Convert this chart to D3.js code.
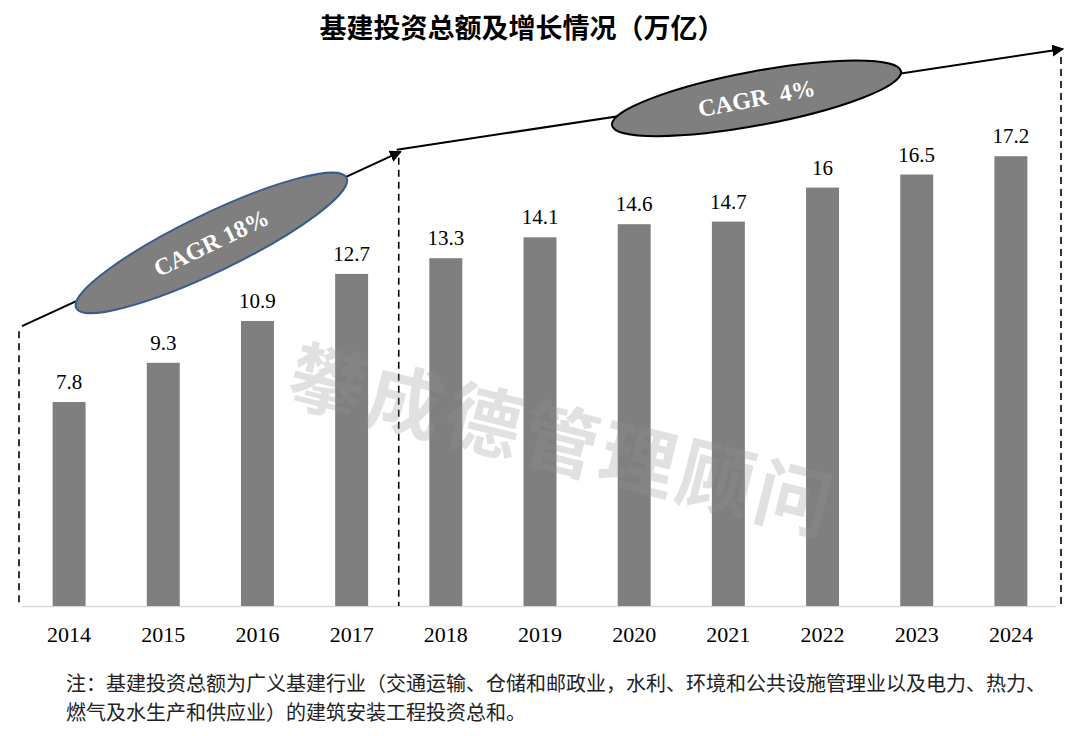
<!DOCTYPE html>
<html>
<head>
<meta charset="utf-8">
<script src="https://cdn.jsdelivr.net/npm/d3@7"></script>
<style>
  html, body { margin: 0; padding: 0; background: #fff; }
</style>
</head>
<body>
<div id="chart"></div>
<script>
// Data
const years = ['2014', '2015', '2016', '2017', '2018', '2019', '2020', '2021', '2022', '2023', '2024']
const totals = [7.8, 9.3, 10.9, 12.7, 13.3, 14.1, 14.6, 14.7, 16, 16.5, 17.2]
const totalLabels = ['7.8', '9.3', '10.9', '12.7', '13.3', '14.1', '14.6', '14.7', '16', '16.5', '17.2']

// Trend arrows: start / break / end (band boundary index, value level)
const trendBreaks = [0, 4, 11]
const trendLevels = [10.7, 17.45, 21.3]
const cagrLabels = ['CAGR 18%', 'CAGR  4%']

const title = '基建投资总额及增长情况（万亿）'
const watermark = '攀成德管理顾问'
const notes = [
  '注：基建投资总额为广义基建行业（交通运输、仓储和邮政业，水利、环境和公共设施管理业以及电力、热力、',
  '燃气及水生产和供应业）的建筑安装工程投资总和。'
]

const width = 1080
const height = 736
const baseY = 606
const serif = '"Liberation Serif", "Times New Roman", serif'
const cjk = '"Noto Sans CJK SC", sans-serif'

const x = d3.scaleBand()
  .domain(years)
  .range([22, 1058])
  .paddingInner(0.65)
  .paddingOuter(0.325)

const y = d3.scaleLinear()
  .domain([0, 20])
  .range([baseY, baseY - 523])

const boundaryX = (i) => i === 0 ? 22 : x(years[i - 1]) + x.bandwidth() + x.step() * x.paddingInner() / 2

const svg = d3.select('#chart').append('svg')
  .attr('width', width)
  .attr('height', height)
  .attr('viewBox', [0, 0, width, height].join(' '))

svg.append('defs').append('marker')
  .attr('id', 'arrow')
  .attr('viewBox', '0 0 10 10')
  .attr('refX', 9)
  .attr('refY', 5)
  .attr('markerWidth', 6)
  .attr('markerHeight', 6)
  .attr('orient', 'auto')
  .append('path')
  .attr('d', 'M0,0 L10,5 L0,10 Z')
  .attr('fill', '#000')

// Title
svg.append('text')
  .attr('x', 522)
  .attr('y', 38)
  .attr('text-anchor', 'middle')
  .style('font-family', cjk)
  .style('font-weight', 'bold')
  .style('font-size', '27px')
  .attr('fill', '#000')
  .text(title)

// Baseline
svg.append('line')
  .attr('x1', x.range()[0])
  .attr('x2', x.range()[1] - 2)
  .attr('y1', baseY + 0.5)
  .attr('y2', baseY + 0.5)
  .attr('stroke', '#d9d9d9')
  .attr('stroke-width', 1.5)

// Bars
svg.selectAll('.bar')
  .data(totals)
  .enter().append('rect')
  .attr('class', 'bar')
  .attr('x', (d, i) => x(years[i]))
  .attr('y', d => y(d))
  .attr('width', x.bandwidth())
  .attr('height', d => baseY - y(d))
  .attr('fill', '#7f7f7f')

// Value labels
svg.selectAll('.value')
  .data(totals)
  .enter().append('text')
  .attr('class', 'value')
  .attr('x', (d, i) => x(years[i]) + x.bandwidth() / 2)
  .attr('y', d => y(d) - 13)
  .attr('text-anchor', 'middle')
  .style('font-family', serif)
  .style('font-size', '21px')
  .attr('fill', '#000')
  .text((d, i) => totalLabels[i])

// Year labels
svg.selectAll('.year')
  .data(years)
  .enter().append('text')
  .attr('class', 'year')
  .attr('x', d => x(d) + x.bandwidth() / 2)
  .attr('y', 642)
  .attr('text-anchor', 'middle')
  .style('font-family', serif)
  .style('font-size', '22px')
  .attr('fill', '#000')
  .text(d => d)

// Dashed separators
trendBreaks.forEach((b, i) => {
  svg.append('line')
    .attr('x1', boundaryX(b) - (i === 0 ? 3 : 0) + (i === 2 ? 3 : 0))
    .attr('x2', boundaryX(b) - (i === 0 ? 3 : 0) + (i === 2 ? 3 : 0))
    .attr('y1', y(trendLevels[i]) + (i === 0 ? 5 : 8))
    .attr('y2', baseY)
    .attr('stroke', '#000')
    .attr('stroke-width', 1.6)
    .attr('stroke-dasharray', '7,5')
})

// Trend arrows and CAGR ellipses
const ellipseStyle = [
  { t: 0.5, rx: 150, ry: 29, stroke: '#3b5b8c', dy: 4 },
  { t: 0.54, rx: 147, ry: 27, stroke: '#000', dy: 3 }
]

cagrLabels.forEach((label, i) => {
  const x1 = boundaryX(trendBreaks[i]) + (i === 1 ? -2 : 0)
  const y1 = y(trendLevels[i])
  const x2 = boundaryX(trendBreaks[i + 1]) + (i === 1 ? 5 : 2)
  const y2 = y(trendLevels[i + 1]) + (i === 0 ? 2 : 0)

  svg.append('line')
    .attr('x1', x1)
    .attr('y1', y1)
    .attr('x2', x2)
    .attr('y2', y2)
    .attr('stroke', '#000')
    .attr('stroke-width', 2)
    .attr('marker-end', 'url(#arrow)')

  const s = ellipseStyle[i]
  const cx = x1 + (x2 - x1) * s.t
  const cy = y1 + (y2 - y1) * s.t + s.dy
  const angle = Math.atan2(y2 - y1, x2 - x1) * 180 / Math.PI

  const g = svg.append('g')
    .attr('transform', `translate(${cx}, ${cy}) rotate(${angle - (i === 1 ? 2 : 1)})`)

  g.append('ellipse')
    .attr('rx', s.rx)
    .attr('ry', s.ry)
    .attr('fill', '#7f7f7f')
    .attr('stroke', s.stroke)
    .attr('stroke-width', 2)

  g.append('text')
    .attr('x', 0)
    .attr('y', 8)
    .attr('text-anchor', 'middle')
    .style('font-family', serif)
    .style('font-weight', 'bold')
    .style('font-size', '24px')
    .style('white-space', 'pre')
    .attr('fill', '#fff')
    .text(label)
})

// Watermark
svg.append('text')
  .attr('transform', 'translate(556, 468) rotate(14)')
  .attr('text-anchor', 'middle')
  .style('font-family', cjk)
  .style('font-weight', 'bold')
  .style('font-size', '76px')
  .style('letter-spacing', '4px')
  .attr('fill', '#949494')
  .attr('fill-opacity', 0.28)
  .text(watermark)

// Footnote
svg.selectAll('.note')
  .data(notes)
  .enter().append('text')
  .attr('class', 'note')
  .attr('x', 66)
  .attr('y', (d, i) => 691 + i * 29)
  .style('font-family', cjk)
  .style('font-size', '20px')
  .attr('fill', '#222')
  .text(d => d)
</script>
</body>
</html>
